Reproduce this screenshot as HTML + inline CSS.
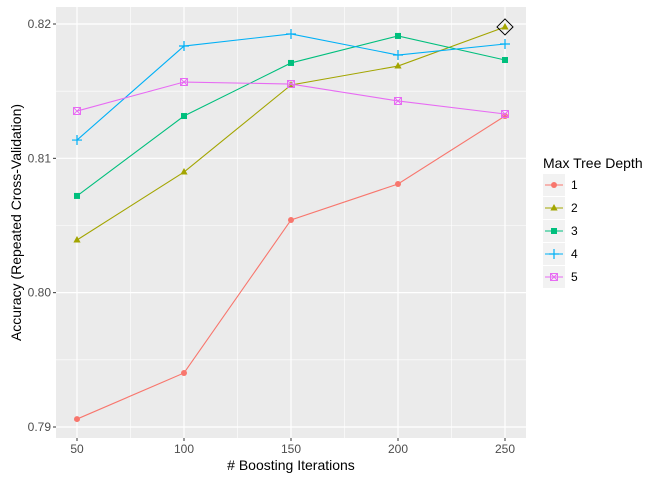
<!DOCTYPE html>
<html><head><meta charset="utf-8"><style>body{margin:0;background:#fff}svg{font-family:"Liberation Sans",sans-serif}</style></head>
<body>
<svg id="c" width="672" height="480"></svg>
<script>
const xVals=[50,100,150,200,250];
const d1=[0.79059,0.79402,0.80541,0.80809,0.81315];
const d2=[0.80392,0.80898,0.81546,0.81687,0.81978];
const d3=[0.80720,0.81315,0.81710,0.81911,0.81732];
const d4=[0.81136,0.81836,0.81926,0.81769,0.81851];
const d5=[0.81352,0.81568,0.81553,0.81427,0.81330];
const yTicks=[0.79,0.80,0.81,0.82];
const yTickLabels=["0.79","0.80","0.81","0.82"];
const seriesNames=["1","2","3","4","5"];
const series=[d1,d2,d3,d4,d5];
const colors=["#F8766D","#A3A500","#00BF7D","#00B0F6","#E76BF3"];
const shapes=["circle","triangle","square","plus","boxx"];
const best={x:250,y:0.81978};
const NS="http://www.w3.org/2000/svg";
const svg=document.getElementById('c');
const L=56,R=526,T=7,B=438;
const X=v=>77+(v-50)*(505-77)/200;
const Y=v=>24+(0.82-v)*13433;
function el(t,a,p){const e=document.createElementNS(NS,t);for(const k in a)e.setAttribute(k,a[k]);(p||svg).appendChild(e);return e;}
const bg=el('rect',{x:L,y:T,width:R-L,height:B-T,fill:'#EBEBEB'});


for(let i=0;i<yTicks.length-1;i++){const v=(yTicks[i]+yTicks[i+1])/2;const g=el('line',{x1:L,x2:R,y1:Y(v),y2:Y(v),stroke:'#fff','stroke-width':0.6});}
for(let i=0;i<xVals.length-1;i++){const v=(xVals[i]+xVals[i+1])/2;const g=el('line',{y1:T,y2:B,x1:X(v),x2:X(v),stroke:'#fff','stroke-width':0.6});}
yTicks.forEach((v,i)=>{const g=el('line',{x1:L,x2:R,y1:Y(v),y2:Y(v),stroke:'#fff','stroke-width':1.2});
const tk=el('line',{x1:L-3,x2:L,y1:Y(v),y2:Y(v),stroke:'#333'});
const t=el('text',{x:L-5,y:Y(v)+4,'text-anchor':'end','font-size':12,fill:'#4D4D4D'});t.textContent=yTickLabels[i];});
xVals.forEach(v=>{const g=el('line',{y1:T,y2:B,x1:X(v),x2:X(v),stroke:'#fff','stroke-width':1.2});
const tk=el('line',{y1:B,y2:B+3,x1:X(v),x2:X(v),stroke:'#333'});
const t=el('text',{x:X(v),y:B+15,'text-anchor':'middle','font-size':12,fill:'#4D4D4D'});t.textContent=v;});
function marker(shape,x,y,c,p){
 let e;
 if(shape=='circle')e=el('circle',{cx:x,cy:y,r:3,fill:c},p);
 else if(shape=='triangle')e=el('polygon',{points:`${x},${y-4} ${x-3.6},${y+2.5} ${x+3.6},${y+2.5}`,fill:c},p);
 else if(shape=='square')e=el('rect',{x:x-3,y:y-3,width:6,height:6,fill:c},p);
 else if(shape=='plus')e=el('path',{d:`M${x-5},${y}H${x+5}M${x},${y-5}V${y+5}`,stroke:c,'stroke-width':1.2,fill:'none'},p);
 else e=el('path',{d:`M${x-3.5},${y-3.5}h7v7h-7zM${x-3.5},${y-3.5}l7,7M${x+3.5},${y-3.5}l-7,7`,stroke:c,'stroke-width':1,fill:'none'},p);
 
}
series.forEach((s,i)=>{
 const g=el('g',{});
 const pl=el('polyline',{points:s.map((v,j)=>X(xVals[j])+','+Y(v)).join(' '),fill:'none',stroke:colors[i],'stroke-width':1.1},g);
 
 s.forEach((v,j)=>marker(shapes[i],X(xVals[j]),Y(v),colors[i],g));
});
const bx=X(best.x),by=Y(best.y);
const dm=el('polygon',{points:`${bx},${by-8} ${bx+8},${by} ${bx},${by+8} ${bx-8},${by}`,fill:'none',stroke:'#000','stroke-width':1});

const xt=el('text',{x:(L+R)/2,y:470,'text-anchor':'middle','font-size':14,fill:'#000'});xt.textContent='# Boosting Iterations';
const yt=el('text',{x:0,y:0,transform:`translate(21,${(T+B)/2}) rotate(-90)`,'text-anchor':'middle','font-size':14,fill:'#000'});yt.textContent='Accuracy (Repeated Cross-Validation)';
const lg=el('g',{});
const lt=el('text',{x:543,y:168,'font-size':14,fill:'#000'},lg);lt.textContent='Max Tree Depth';
seriesNames.forEach((n,i)=>{
 const cy=185+i*23;
 const e=el('g',{},lg);
 el('rect',{x:543,y:cy-11,width:22,height:22,fill:'#F2F2F2'},e);
 el('line',{x1:545,x2:563,y1:cy,y2:cy,stroke:colors[i],'stroke-width':1.1},e);
 marker(shapes[i],554,cy,colors[i],e);
 const t=el('text',{x:571,y:cy+4,'font-size':12,fill:'#000'},e);t.textContent=n;
});
</script>
</body></html>
